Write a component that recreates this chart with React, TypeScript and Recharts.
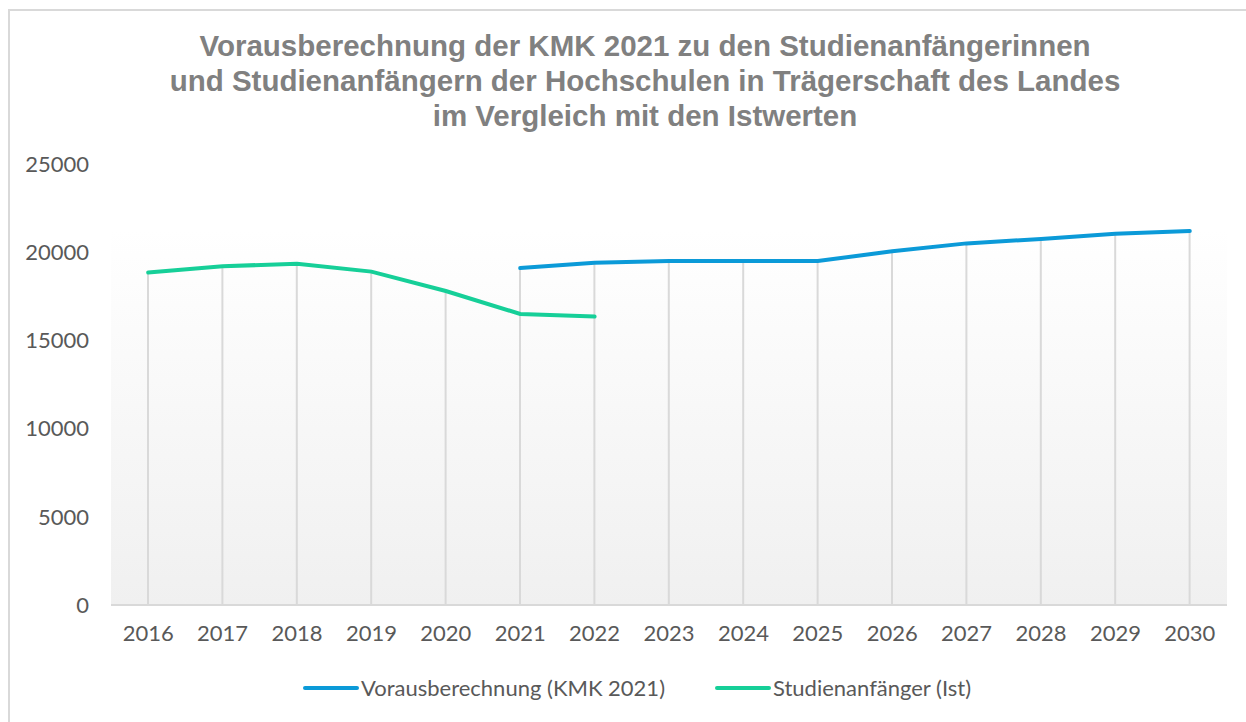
import React from 'react';
import { ComposedChart, Line, Bar, XAxis, YAxis, CartesianGrid } from 'recharts';

const years = ['2016','2017','2018','2019','2020','2021','2022','2023','2024','2025','2026','2027','2028','2029','2030'];
const kmk: (number | null)[] = [null, null, null, null, null, 19100, 19400, 19500, 19500, 19500, 20050, 20500, 20750, 21050, 21200];
const ist: (number | null)[] = [18850, 19200, 19350, 18900, 17800, 16500, 16350, null, null, null, null, null, null, null, null];
const yTicks = [0, 5000, 10000, 15000, 20000, 25000];
const titleLines = [
  'Vorausberechnung der KMK 2021 zu den Studienanfängerinnen',
  'und Studienanfängern der Hochschulen in Trägerschaft des Landes',
  'im Vergleich mit den Istwerten',
];
const seriesNames = ['Vorausberechnung (KMK 2021)', 'Studienanfänger (Ist)'];

const BLUE = '#0B9AD8';
const GREEN = '#16CF98';
const FONT = 'Lato, "Open Sans", sans-serif';

const data = years.map((y, i) => ({
  year: y,
  kmk: kmk[i],
  ist: ist[i],
  drop: Math.max(kmk[i] ?? 0, ist[i] ?? 0),
}));

export default function App() {
  return (
    <div style={{ position: 'absolute', left: 0, top: 0, width: 1246, height: 722, overflow: 'hidden', background: '#fff' }}>
      <div style={{ position: 'absolute', left: 8, top: 9, width: 1260, height: 730, border: '2px solid #d9d9d9', boxSizing: 'border-box' }} />
      <div style={{ position: 'absolute', left: 45, top: 28, width: 1200, textAlign: 'center', fontFamily: '"Liberation Sans", Arial, sans-serif', fontWeight: 'bold', fontSize: 29.5, lineHeight: '35px', color: '#808080' }}>
        {titleLines.map((t) => (<div key={t}>{t}</div>))}
      </div>
      <div style={{ position: 'absolute', left: 0, top: 0 }}>
        <ComposedChart width={1246} height={722} data={data} margin={{ top: 164, right: 19, bottom: 67, left: 11 }}>
          <defs>
            <linearGradient id="bgGrad" x1="0" y1="0" x2="0" y2="1">
              <stop offset="0" stopColor="#ffffff" />
              <stop offset="0.15" stopColor="#ffffff" />
              <stop offset="1" stopColor="#f0f0f0" />
            </linearGradient>
          </defs>
          <CartesianGrid horizontal={false} vertical={false} fill="url(#bgGrad)" stroke="none" />
          <XAxis dataKey="year" height={50} tickLine={false} axisLine={{ stroke: '#d9d9d9', strokeWidth: 2 }} tickMargin={14}
            tick={{ fill: '#595959', fontSize: 22, fontFamily: FONT }} interval={0} />
          <YAxis width={100} domain={[0, 25000]} ticks={yTicks} axisLine={false} tickLine={false} tickMargin={16}
            tick={{ fill: '#595959', fontSize: 22, fontFamily: FONT }} />
          <Bar dataKey="drop" barSize={2} fill="#d9d9d9" isAnimationActive={false} />
          <Line dataKey="ist" stroke={GREEN} strokeWidth={4} dot={false} activeDot={false} isAnimationActive={false} strokeLinecap="round" />
          <Line dataKey="kmk" stroke={BLUE} strokeWidth={4} dot={false} activeDot={false} isAnimationActive={false} strokeLinecap="round" />
        </ComposedChart>
      </div>
      <div style={{ position: 'absolute', left: 14, top: 672, width: 1246, display: 'flex', justifyContent: 'center', fontFamily: FONT, fontSize: 22, color: '#595959', lineHeight: '32px' }}>
        {seriesNames.map((n, i) => (
          <div key={n} style={{ display: 'flex', alignItems: 'center', marginLeft: i === 0 ? 0 : 50 }}>
            <div style={{ width: 56, height: 4, borderRadius: 2, background: i === 0 ? BLUE : GREEN, marginRight: 2 }} />
            <span>{n}</span>
          </div>
        ))}
      </div>
    </div>
  );
}
